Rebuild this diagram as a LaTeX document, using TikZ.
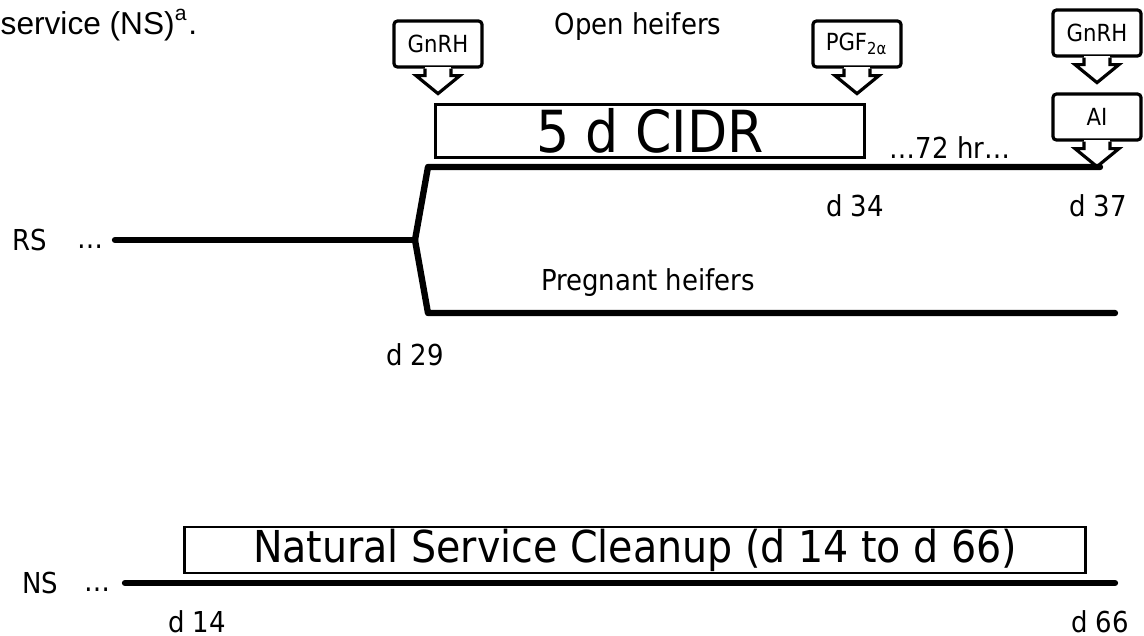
\documentclass[tikz,border=0pt]{standalone}
\usepackage{fontspec}
\setmainfont{DejaVu Sans Condensed}
\newfontfamily\arialfont{Liberation Sans}
\usetikzlibrary{positioning,calc}
\tikzstyle{timeline}=[line width=1.8pt, line cap=round, line join=round]
\tikzstyle{txt}=[inner sep=0pt, font=\fontsize{8.2}{9}\selectfont]
\tikzstyle{dots}=[inner sep=0pt, anchor=base, font=\fontsize{8.2}{9}\selectfont]
\tikzstyle{callbox}=[draw, line width=0.9pt, rounded corners=1pt, minimum width=0.88cm, minimum height=0.46cm, inner sep=0pt, font=\fontsize{6.7}{7}\selectfont]
\tikzstyle{bigbox}=[draw, line width=0.8pt, inner sep=0pt]
% arrow part of a callout, below the box node #1
\newcommand{\callarrow}[1]{%
  \fill[white] ($(#1.south)+(-13,-2)$) -- ++(0,10) -- ++(26,0) -- ++(0,-10) -- cycle;
  \draw[line width=0.9pt, line join=miter] ($(#1.south)+(-13,0)$) -- ++(0,7) -- ++(-9,0)
    -- ($(#1.south)+(0,25)$) -- ($(#1.south)+(22,7)$) -- ++(-9,0) -- ++(0,-7);
}

\begin{document}
\begin{tikzpicture}[x=0.01cm, y=-0.01cm]
    \useasboundingbox (0,0) rectangle (1144,635);
    % title fragment
    \node[inner sep=0pt, anchor=west, font=\arialfont\fontsize{9}{10}\selectfont] (title) at (0,25) {service (NS)\textsuperscript{a}.};

    % callouts on the upper branch
    \node[callbox] (gnrh1) at (438,44) {GnRH};
    \node[callbox] (pgf) at (857,44) {PGF\textsubscript{2α}};
    \node[callbox] (gnrh2) at (1097,33) {GnRH};
    \node[callbox] (ai) at (1097,117) {AI};
    \callarrow{gnrh1}
    \callarrow{pgf}
    \callarrow{gnrh2}
    \callarrow{ai}
    \node[txt] (open) at (638,27) {Open heifers};

    % CIDR box
    \node[bigbox, minimum width=4.29cm, minimum height=0.53cm, font=\fontsize{16.5}{17}\selectfont] (cidr) at (650,131) {5 d CIDR};
    \node[txt] (hr) at (950,148) {…72 hr…};

    % RS timeline and its branches
    \node[txt] (rs) at (30,240) {RS};
    \node[dots] (rsdots) at (90,248) {…};
    \coordinate (rsstart) at (115,240);
    \coordinate (split) at (415,240);
    \coordinate (upcorner) at (428,167);
    \coordinate (upend) at (1100,167);
    \coordinate (lowcorner) at (428,313);
    \coordinate (lowend) at (1115,313);
    \draw[timeline] (rsstart) -- (split);
    \draw[timeline] (split) -- (upcorner) -- (upend);
    \draw[timeline] (split) -- (lowcorner) -- (lowend);
    \node[txt] (d34) at (855,206) {d 34};
    \node[txt] (d37) at (1098,206) {d 37};
    \node[txt] (preg) at (648,283) {Pregnant heifers};
    \node[txt] (d29) at (415,355) {d 29};

    % NS timeline
    \node[bigbox, minimum width=9.0cm, minimum height=0.46cm, font=\fontsize{12.5}{13}\selectfont] (nsbox) at (635,550) {Natural Service Cleanup (d 14 to d 66)};
    \node[txt] (ns) at (40,583) {NS};
    \node[dots] (nsdots) at (97,591) {…};
    \coordinate (nsstart) at (125,583);
    \coordinate (nsend) at (1115,583);
    \draw[timeline] (nsstart) -- (nsend);
    \node[txt] (d14) at (197,622) {d 14};
    \node[txt] (d66) at (1100,622) {d 66};
\end{tikzpicture}
\end{document}
